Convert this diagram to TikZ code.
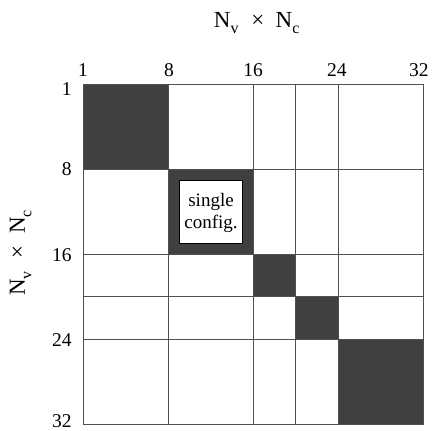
\documentclass[tikz,border=0pt]{standalone}
\usepackage{fontspec}
\setmainfont{Liberation Serif}
\definecolor{blockgray}{HTML}{404040}
\definecolor{gridgray}{HTML}{505050}
\newcommand{\lowsub}[1]{\raisebox{-0.28em}{\fontsize{16}{16}\selectfont #1}}

\tikzset{
  ticklabel/.style={inner sep=0pt, font=\fontsize{19.5}{19.5}\selectfont},
  axistitle/.style={inner sep=0pt, font=\fontsize{23}{23}\selectfont},
}

\begin{document}
\begin{tikzpicture}[x=1pt, y=-1pt, line width=0.7pt]
  \useasboundingbox (0,0) rectangle (434,431);
  \begin{scope}[shift={(83,84)}, x=10.625pt, y=-10.625pt]
    % diagonal blocks
    \foreach \a/\b in {0/8, 8/16, 16/20, 20/24, 24/32}
      \fill[blockgray] (\a,\a) rectangle (\b,\b);
    % grid
    \foreach \v in {8,16,20,24}{
      \draw[gridgray] (\v,0) -- (\v,32);
      \draw[gridgray] (0,\v) -- (32,\v);
    }
    \draw[gridgray] (0,0) rectangle (32,32);
    % single configuration
    \filldraw[fill=white, draw=black, line width=0.5pt] (9.1,9.1) rectangle (15.0,15.0);
    \node[align=center, inner sep=0pt, font=\fontsize{19}{22}\selectfont] (cfg) at (12.05,12.15) {single\\config.};
    % tick labels
    \foreach \t/\x in {1/0, 8/8.1, 16/16, 24/23.9, 32/31.6}
      \node[ticklabel, anchor=base] (top\t) at (\x,-0.66) {\t};
    \foreach \t/\y in {1/0.45, 8/8, 16/16.1, 24/24.1, 32/31.75}
      \node[ticklabel, anchor=east] (left\t) at (-1.03,\y) {\t};
    % axis titles
    \node[axistitle, anchor=base] (toptitle) at (16.35,-5.36)
      {N\lowsub{v}\hspace{0.55em}×\hspace{0.5em}N\lowsub{c}};
    \node[axistitle, anchor=base, rotate=90] (lefttitle) at (-5.46,15.9)
      {N\lowsub{v}\hspace{0.55em}×\hspace{0.5em}N\lowsub{c}};
  \end{scope}
\end{tikzpicture}
\end{document}
